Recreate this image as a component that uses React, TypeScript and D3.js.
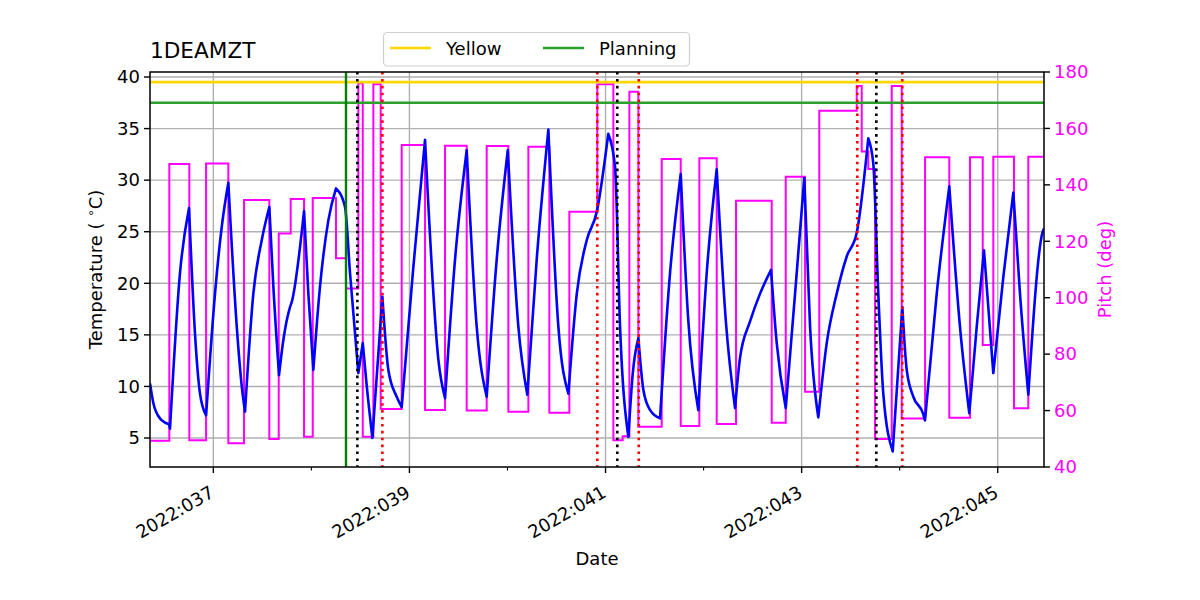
import React, { useEffect, useRef } from 'react';
import * as d3 from 'd3';

// ---- data (day-of-year 2022) ----
const tempDays = [36.354, 36.388, 36.456, 36.507, 36.548, 36.558, 36.660, 36.752, 36.813, 36.864,
  36.926, 37.017, 37.086, 37.153, 37.239, 37.290, 37.323, 37.408, 37.494, 37.571,
  37.612, 37.670, 37.714, 37.782, 37.800, 37.925, 37.969, 38.020, 38.088, 38.173,
  38.251, 38.343, 38.394, 38.479, 38.524, 38.565, 38.622, 38.724, 38.785, 38.870,
  38.921, 39.040, 39.159, 39.295, 39.363, 39.465, 39.584, 39.686, 39.788, 39.890,
  40.003, 40.111, 40.202, 40.298, 40.417, 40.519, 40.621, 40.707, 40.809, 40.910,
  41.028, 41.097, 41.148, 41.233, 41.278, 41.335, 41.386, 41.455, 41.556, 41.658,
  41.767, 41.844, 41.946, 42.032, 42.134, 42.229, 42.321, 42.372, 42.474, 42.576,
  42.688, 42.746, 42.838, 42.933, 43.027, 43.086, 43.170, 43.256, 43.358, 43.460,
  43.562, 43.680, 43.731, 43.782, 43.833, 43.929, 44.027, 44.072, 44.139, 44.241,
  44.258, 44.378, 44.506, 44.615, 44.710, 44.786, 44.860, 44.955, 45.057, 45.159,
  45.227, 45.312, 45.459, 45.472];
const tempValues = [10.3, 8.4, 6.9, 6.5, 6.3, 5.9, 21.0, 27.3, 15.1, 9.3,
  7.2, 19.0, 25.5, 29.75, 15.8, 10.0, 7.55, 19.0, 24.2, 27.4,
  19.7, 11.1, 14.5, 17.7, 18.2, 27.0, 19.0, 11.6, 19.7, 26.1,
  29.2, 27.4, 21.0, 11.3, 14.2, 10.0, 5.0, 18.7, 11.6, 9.0,
  8.0, 21.6, 33.9, 12.6, 8.85, 22.3, 32.9, 15.8, 9.0, 22.3,
  32.9, 15.8, 9.2, 22.3, 34.9, 15.8, 9.3, 19.0, 24.2, 26.9,
  34.5, 31.3, 15.8, 5.1, 11.3, 14.7, 9.65, 7.7, 6.9, 21.0,
  30.6, 16.4, 7.7, 21.0, 31.05, 16.1, 7.9, 12.8, 16.3, 19.0,
  21.3, 14.2, 7.9, 19.0, 30.2, 15.8, 7.0, 14.2, 19.0, 22.6,
  24.9, 34.05, 31.6, 19.0, 9.3, 3.7, 17.7, 11.6, 9.0, 7.3,
  6.7, 19.0, 29.4, 15.8, 7.4, 15.8, 23.2, 11.3, 20.6, 28.8,
  19.0, 9.2, 25.0, 25.3];

const pitchDays = [36.354, 36.551, 36.755, 36.926, 37.153, 37.313, 37.571, 37.667, 37.789, 37.925,
  38.014, 38.251, 38.353, 38.479, 38.524, 38.632, 38.707, 38.921, 39.159, 39.363,
  39.584, 39.788, 40.009, 40.213, 40.427, 40.631, 40.916, 41.080, 41.175, 41.243,
  41.335, 41.573, 41.767, 41.957, 42.134, 42.331, 42.695, 42.838, 43.035, 43.180,
  43.562, 43.613, 43.680, 43.749, 43.919, 44.021, 44.259, 44.506, 44.717, 44.847,
  44.955, 45.166, 45.312, 45.472];
const pitchValues = [49.3, 147.4, 49.5, 147.6, 48.4, 134.6, 49.9, 122.8, 135, 50.7,
  135.3, 114, 103.3, 176, 50.7, 175.7, 60.6, 154.1, 60.2, 153.9,
  60, 153.8, 59.6, 153.5, 59.2, 130.5, 175.7, 49.5, 50.9, 173,
  54.3, 149.2, 54.5, 149.4, 55.2, 134.4, 55.7, 142.9, 66.7, 166.3,
  175, 151.8, 145.6, 49.9, 175, 57.2, 149.8, 57.5, 149.8, 83.2,
  150, 60.8, 150, 150];

const yellowLimit = 39.5;
const planningLimit = 37.5;
const planningStartDays = [38.353];
const blackDotDays = [38.469, 41.120, 43.762];
const redDotDays = [38.724, 40.916, 41.339, 43.568, 44.027];

const xDomain = [36.354, 45.472];
const tempDomain = [2.19, 40.485];
const pitchDomain = [40, 180];
const xMajorTicks = [37, 39, 41, 43, 45];
const xMinorTicks = [38, 40, 42, 44];
const tempTicks = [5, 10, 15, 20, 25, 30, 35, 40];
const pitchTicks = [40, 60, 80, 100, 120, 140, 160, 180];
const legendLabels = ['Yellow', 'Planning'];
const titleText = '1DEAMZT';

export default function App() {
  const ref = useRef<SVGSVGElement>(null);
  useEffect(() => {
    const W = 1200, H = 600, L = 150, R = 1044, T = 72, B = 467;
    const font = '"DejaVu Sans", sans-serif';
    const svg = d3.select(ref.current);
    svg.selectAll('*').remove();
    svg.append('rect').attr('width', W).attr('height', H).attr('fill', 'white');

    const x = d3.scaleLinear().domain(xDomain).range([L, R]);
    const yT = d3.scaleLinear().domain(tempDomain).range([B, T]);
    const yP = d3.scaleLinear().domain(pitchDomain).range([B, T]);

    // grid
    const grid = svg.append('g').attr('stroke', '#b0b0b0').attr('stroke-width', 1.4);
    xMajorTicks.forEach(d => grid.append('line').attr('x1', x(d)).attr('x2', x(d)).attr('y1', T).attr('y2', B));
    tempTicks.forEach(v => grid.append('line').attr('x1', L).attr('x2', R).attr('y1', yT(v)).attr('y2', yT(v)));

    svg.append('defs').append('clipPath').attr('id', 'plotclip')
      .append('rect').attr('x', L).attr('y', T).attr('width', R - L).attr('height', B - T);
    const plot = svg.append('g').attr('clip-path', 'url(#plotclip)');

    const pitchData: [number, number][] = pitchDays.map((d, i) => [d, pitchValues[i]]);
    plot.append('path').datum(pitchData)
      .attr('d', d3.line<[number, number]>().x(d => x(d[0])).y(d => yP(d[1])).curve(d3.curveStepAfter))
      .attr('fill', 'none').attr('stroke', '#ff00ff').attr('stroke-width', 2);

    // temperature: smooth monotone runs between extrema, sharp turning points
    const tempData: [number, number][] = tempDays.map((d, i) => [d, tempValues[i]]);
    const runs: [number, number][][] = [];
    let cur: [number, number][] = [tempData[0]];
    for (let i = 1; i < tempData.length; i++) {
      cur.push(tempData[i]);
      const isLast = i === tempData.length - 1;
      const turn = !isLast && (tempData[i][1] - tempData[i - 1][1]) * (tempData[i + 1][1] - tempData[i][1]) <= 0;
      if (turn || isLast) { runs.push(cur); cur = [tempData[i]]; }
    }
    const smooth = d3.line<[number, number]>().x(d => x(d[0])).y(d => yT(d[1])).curve(d3.curveMonotoneX);
    const tempPath = runs.map((r, k) => {
      const s = smooth(r) || '';
      return k === 0 ? s : s.replace(/^M/, 'L');
    }).join('');
    plot.append('path').attr('d', tempPath)
      .attr('fill', 'none').attr('stroke', '#0000ff').attr('stroke-width', 2.6).attr('stroke-linejoin', 'round');

    plot.append('line').attr('x1', L).attr('x2', R).attr('y1', yT(yellowLimit)).attr('y2', yT(yellowLimit))
      .attr('stroke', '#ffd700').attr('stroke-width', 2.6);
    plot.append('line').attr('x1', L).attr('x2', R).attr('y1', yT(planningLimit)).attr('y2', yT(planningLimit))
      .attr('stroke', '#2ca02c').attr('stroke-width', 2.6);
    planningStartDays.forEach(d => plot.append('line').attr('x1', x(d)).attr('x2', x(d)).attr('y1', T).attr('y2', B)
      .attr('stroke', '#008000').attr('stroke-width', 2.4));
    blackDotDays.forEach(d => plot.append('line').attr('x1', x(d)).attr('x2', x(d)).attr('y1', T).attr('y2', B)
      .attr('stroke', 'black').attr('stroke-width', 2.6).attr('stroke-dasharray', '2.6,4.3'));
    redDotDays.forEach(d => plot.append('line').attr('x1', x(d)).attr('x2', x(d)).attr('y1', T).attr('y2', B)
      .attr('stroke', 'red').attr('stroke-width', 2.6).attr('stroke-dasharray', '2.6,4.3'));

    // spines
    svg.append('rect').attr('x', L).attr('y', T).attr('width', R - L).attr('height', B - T)
      .attr('fill', 'none').attr('stroke', 'black').attr('stroke-width', 1.5);

    // ticks
    const tk = svg.append('g').attr('font-family', font).attr('font-size', 18);
    tempTicks.forEach(v => {
      tk.append('line').attr('x1', L - 6).attr('x2', L).attr('y1', yT(v)).attr('y2', yT(v)).attr('stroke', 'black').attr('stroke-width', 1.4);
      tk.append('text').attr('x', L - 10).attr('y', yT(v)).attr('dy', '0.35em').attr('text-anchor', 'end').text(String(v));
    });
    pitchTicks.forEach(v => {
      tk.append('line').attr('x1', R).attr('x2', R + 6).attr('y1', yP(v)).attr('y2', yP(v)).attr('stroke', 'black').attr('stroke-width', 1.4);
      tk.append('text').attr('x', R + 10).attr('y', yP(v)).attr('dy', '0.35em').attr('fill', '#ff00ff').text(String(v));
    });
    xMinorTicks.forEach(d => tk.append('line').attr('x1', x(d)).attr('x2', x(d)).attr('y1', B).attr('y2', B + 3.6).attr('stroke', 'black').attr('stroke-width', 1.1));
    xMajorTicks.forEach(d => {
      tk.append('line').attr('x1', x(d)).attr('x2', x(d)).attr('y1', B).attr('y2', B + 6).attr('stroke', 'black').attr('stroke-width', 1.4);
      tk.append('text').attr('text-anchor', 'end')
        .attr('transform', `translate(${x(d) + 2},${B + 29}) rotate(-30)`)
        .text(`2022:${String(d).padStart(3, '0')}`);
    });

    // axis labels
    tk.append('text').attr('x', (L + R) / 2).attr('y', 565).attr('text-anchor', 'middle').text('Date');
    const yl = tk.append('text').attr('transform', `translate(102,${(T + B) / 2}) rotate(-90)`).attr('text-anchor', 'middle');
    yl.append('tspan').text('Temperature ( ');
    yl.append('tspan').attr('font-size', 12).attr('dy', -7).text('∘');
    yl.append('tspan').attr('dy', 7).text('C)');
    tk.append('text').attr('transform', `translate(1111,${(T + B) / 2}) rotate(-90)`).attr('text-anchor', 'middle')
      .attr('fill', '#ff00ff').text('Pitch (deg)');

    // title
    svg.append('text').attr('x', L).attr('y', 58).attr('font-family', font).attr('font-size', 21.6).text(titleText);

    // legend
    const lg = svg.append('g').attr('font-family', font).attr('font-size', 18);
    lg.append('rect').attr('x', 383.5).attr('y', 32.5).attr('width', 306).attr('height', 33.5).attr('rx', 4)
      .attr('fill', 'white').attr('stroke', '#d0d0d0').attr('stroke-width', 1.2);
    const legendColors = ['#ffd700', '#2ca02c'];
    const legendX = [390, 543];
    legendLabels.forEach((lab, i) => {
      lg.append('line').attr('x1', legendX[i]).attr('x2', legendX[i] + 41).attr('y1', 48).attr('y2', 48)
        .attr('stroke', legendColors[i]).attr('stroke-width', 2.6);
      lg.append('text').attr('x', legendX[i] + 56).attr('y', 54.5).text(lab);
    });
  }, []);
  return <svg ref={ref} width={1200} height={600} style={{ position: 'absolute', left: 0, top: 0 }} />;
}
